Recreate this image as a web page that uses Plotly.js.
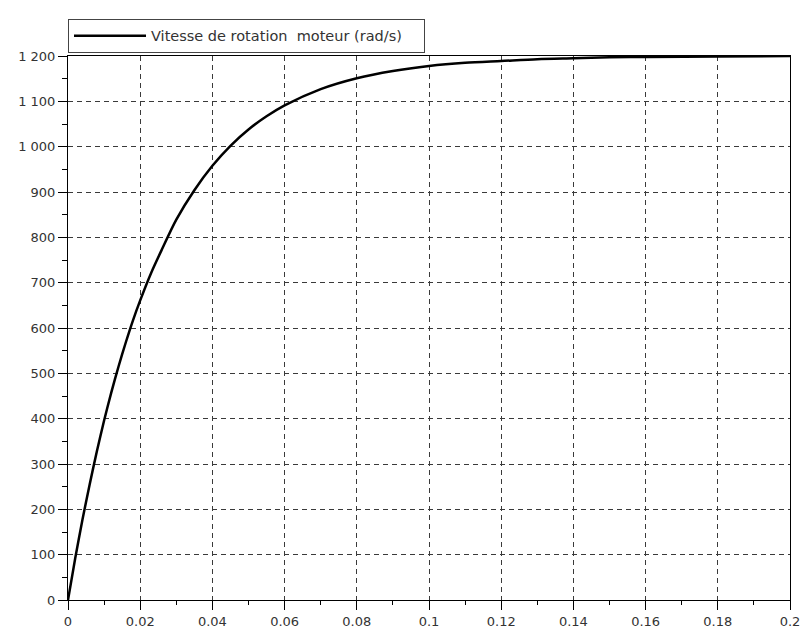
<!DOCTYPE html>
<html>
<head>
<meta charset="utf-8">
<script src="https://cdn.plot.ly/plotly-3.0.1.min.js"></script>
<style>
  html, body { margin: 0; padding: 0; background: #fff; }
  #chart { width: 802px; height: 633px; }
</style>
</head>
<body>
<div id="chart"></div>
<script>
// Time (s)
const timeS = [0, 0.002, 0.004, 0.006, 0.008, 0.01, 0.012, 0.014, 0.016, 0.018, 0.02,
  0.023, 0.026, 0.03, 0.035, 0.04, 0.045, 0.05, 0.055, 0.06, 0.07, 0.08, 0.09, 0.1,
  0.11, 0.12, 0.13, 0.14, 0.15, 0.16, 0.18, 0.2];
// Motor rotation speed (rad/s)
const speedRadS = [0, 92, 177, 255, 328, 396, 458, 515, 568, 617, 661,
  721, 773, 839, 904, 958, 1002, 1038, 1067, 1091, 1127, 1151, 1167, 1178,
  1185, 1189, 1193, 1195, 1197, 1198, 1199, 1200];
const seriesName = "Vitesse de rotation\u00a0\u00a0moteur (rad/s)";

const fontFam = "DejaVu Sans, Liberation Sans, Arial, sans-serif";

const trace = {
  x: timeS, y: speedRadS, type: 'scatter', mode: 'lines',
  name: seriesName,
  line: { color: '#000', width: 2.5, shape: 'spline', smoothing: 0.8 },
  cliponaxis: false
};

const gridDash = '5px,4px';
const layout = {
  width: 802, height: 633,
  margin: { l: 68, r: 12, t: 56, b: 33 },
  paper_bgcolor: '#fff', plot_bgcolor: '#fff',
  separators: '. ',
  font: { family: fontFam, size: 13, color: '#333' },
  showlegend: true,
  legend: {
    x: 0, xanchor: 'left', y: 1.006, yanchor: 'bottom',
    orientation: 'h',
    bordercolor: '#444', borderwidth: 1,
    bgcolor: '#fff',
    font: { family: fontFam, size: 14.5, color: '#333' },
    entrywidth: 268,
    itemwidth: 72
  },
  xaxis: {
    range: [0, 0.2], dtick: 0.02, tick0: 0,
    showline: true, linecolor: '#000', linewidth: 1, mirror: true,
    ticks: 'outside', ticklen: 9, tickcolor: '#000', tickwidth: 1,
    minor: { dtick: 0.01, ticks: 'outside', ticklen: 4, tickcolor: '#000', showgrid: false },
    showgrid: true, gridcolor: '#3a3a3a', gridwidth: 1, griddash: gridDash,
    zeroline: false,
    tickfont: { family: fontFam, size: 13, color: '#333' }
  },
  yaxis: {
    range: [0, 1200], dtick: 100, tick0: 0,
    separatethousands: true,
    showline: true, linecolor: '#000', linewidth: 1, mirror: true,
    ticks: 'outside', ticklen: 9, tickcolor: '#000', tickwidth: 1,
    minor: { dtick: 50, ticks: 'outside', ticklen: 5, tickcolor: '#000', showgrid: false },
    showgrid: true, gridcolor: '#3a3a3a', gridwidth: 1, griddash: gridDash,
    zeroline: false,
    tickfont: { family: fontFam, size: 13, color: '#333' }
  }
};

Plotly.newPlot('chart', [trace], layout, { displayModeBar: false, staticPlot: true });
</script>
</body>
</html>
